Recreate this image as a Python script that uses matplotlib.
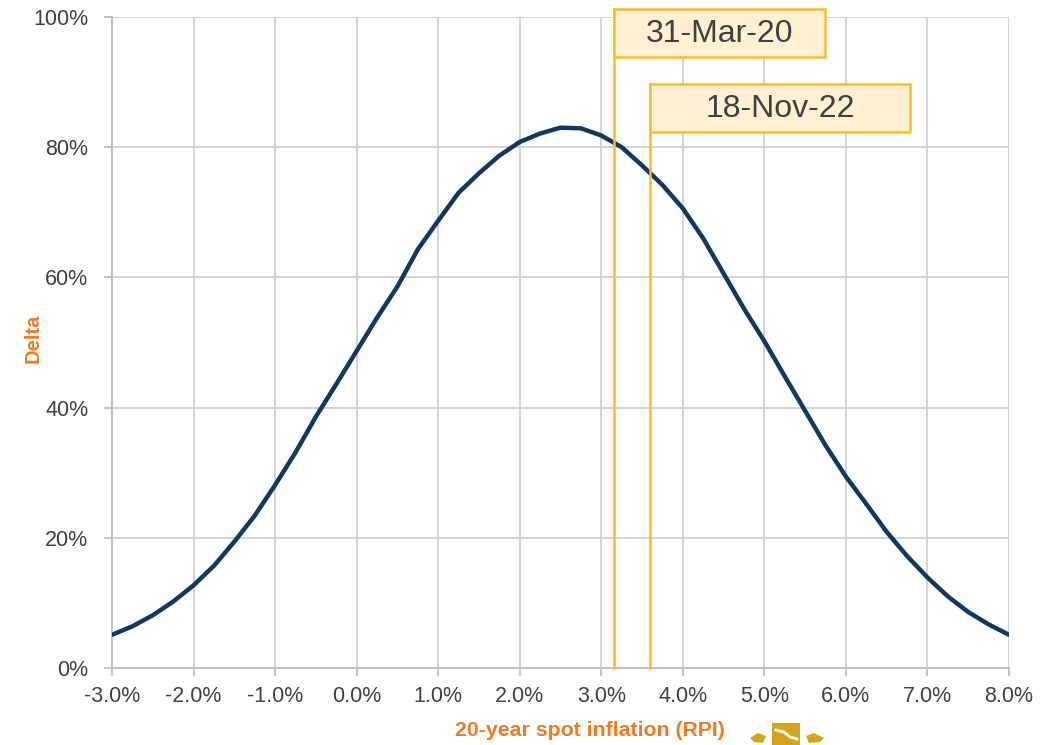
import matplotlib
matplotlib.use("Agg")
import matplotlib.pyplot as plt
from matplotlib.patches import Rectangle, Polygon
from matplotlib.ticker import FuncFormatter, MultipleLocator

plt.rcParams['font.family'] = ['Liberation Sans', 'DejaVu Sans']

# --- data ---
inflation = [-3.0, -2.75, -2.5, -2.25, -2.0, -1.75, -1.5, -1.25, -1.0, -0.75, -0.5, -0.25,
             0.0, 0.25, 0.5, 0.75, 1.0, 1.25, 1.5, 1.75, 2.0, 2.25, 2.5, 2.75,
             3.0, 3.25, 3.5, 3.75, 4.0, 4.25, 4.5, 4.75, 5.0, 5.25, 5.5, 5.75,
             6.0, 6.25, 6.5, 6.75, 7.0, 7.25, 7.5, 7.75, 8.0]
delta = [5.1, 6.4, 8.1, 10.2, 12.7, 15.7, 19.4, 23.4, 28.1, 33.1, 38.6, 43.6,
         48.7, 53.8, 58.6, 64.3, 68.7, 73.0, 76.0, 78.7, 80.8, 82.1, 83.0, 82.9,
         81.8, 80.0, 77.2, 74.2, 70.6, 66.0, 60.6, 55.2, 50.2, 44.8, 39.5, 34.2,
         29.4, 25.2, 20.9, 17.2, 13.9, 11.0, 8.6, 6.7, 5.1]
event_labels = ['31-Mar-20', '18-Nov-22']
event_x = [3.15, 3.6]

NAVY = '#14375E'
GOLD_LINE = '#FBBB22'
BOX_FILL = '#FFF0D3'
BOX_EDGE = '#F9BD2D'
ORANGE = '#EF7B22'
TXT = '#404040'
GRID = '#D0D0D0'

W, H = 1063, 745
fig = plt.figure(figsize=(W / 100, H / 100), dpi=100)
ax = fig.add_axes([112 / W, (H - 668) / H, (1009 - 112) / W, (668 - 17) / H])

ax.set_xlim(-3, 8)
ax.set_ylim(0, 100)
ax.xaxis.set_major_locator(MultipleLocator(1))
ax.yaxis.set_major_locator(MultipleLocator(20))
ax.xaxis.set_major_formatter(FuncFormatter(lambda v, p: f"{v:.1f}%"))
ax.yaxis.set_major_formatter(FuncFormatter(lambda v, p: f"{v:.0f}%"))

ax.grid(True, color=GRID, linewidth=1.3)
ax.set_axisbelow(True)
for s in ['top', 'right']:
    ax.spines[s].set_visible(False)
for s in ['left', 'bottom']:
    ax.spines[s].set_color('#C0C0C0')
    ax.spines[s].set_linewidth(1.5)
ax.tick_params(axis='both', colors='#C0C0C0', labelcolor=TXT, labelsize=15.5,
               length=6, width=1.3)
ax.tick_params(axis='y', pad=11)
ax.tick_params(axis='x', pad=7)

ax.plot(inflation, delta, color=NAVY, linewidth=3.2, solid_capstyle='round',
        solid_joinstyle='round', zorder=3)

# event lines with labelled boxes
box_specs = [  # (top %, bottom %, right x) layout for each label box
    (101.2, 93.9, 5.74),
    (89.7, 82.4, 6.785),
]
for (lab, ex), (top, bot, right) in zip(zip(event_labels, event_x), box_specs):
    ax.plot([ex, ex], [0, top], color=GOLD_LINE, linewidth=1.8, zorder=4, clip_on=False)
    rect = Rectangle((ex, bot), right - ex, top - bot, facecolor=BOX_FILL,
                     edgecolor=BOX_EDGE, linewidth=1.8, zorder=5, clip_on=False)
    ax.add_patch(rect)
    ax.text((ex + right) / 2, (top + bot) / 2 - 0.2, lab, ha='center', va='center',
            fontsize=23, color=TXT, zorder=6, clip_on=False)

# axis labels
fig.text(33 / W, 1 - 338 / H, 'Delta', rotation=90, ha='center', va='center',
         fontsize=14.5, fontweight='bold', color=ORANGE)
fig.text(590 / W, 1 - 731 / H, '20-year spot inflation (RPI)', ha='center', va='center',
         fontsize=15.3, fontweight='bold', color=ORANGE)

# small gold emblem near the x label
LOGO = '#D4A41C'
fig.patches.append(Rectangle((772 / W, 0), 28 / W, 22 / H, transform=fig.transFigure,
                             facecolor=LOGO, edgecolor='none'))
fig.lines.append(plt.Line2D([776 / W, 784 / W, 790 / W, 797 / W],
                            [15 / H, 13 / H, 8 / H, 6 / H], transform=fig.transFigure,
                            color='white', linewidth=2))
fig.patches.append(Polygon([(750 / W, 7 / H), (758 / W, 12 / H), (766 / W, 9 / H),
                            (763 / W, 2 / H), (754 / W, 3 / H)], closed=True,
                           transform=fig.transFigure, facecolor=LOGO, edgecolor='none'))
fig.patches.append(Polygon([(806 / W, 9 / H), (814 / W, 12 / H), (824 / W, 7 / H),
                            (820 / W, 3 / H), (809 / W, 2 / H)], closed=True,
                           transform=fig.transFigure, facecolor=LOGO, edgecolor='none'))

fig.savefig('out.png', dpi=100)
